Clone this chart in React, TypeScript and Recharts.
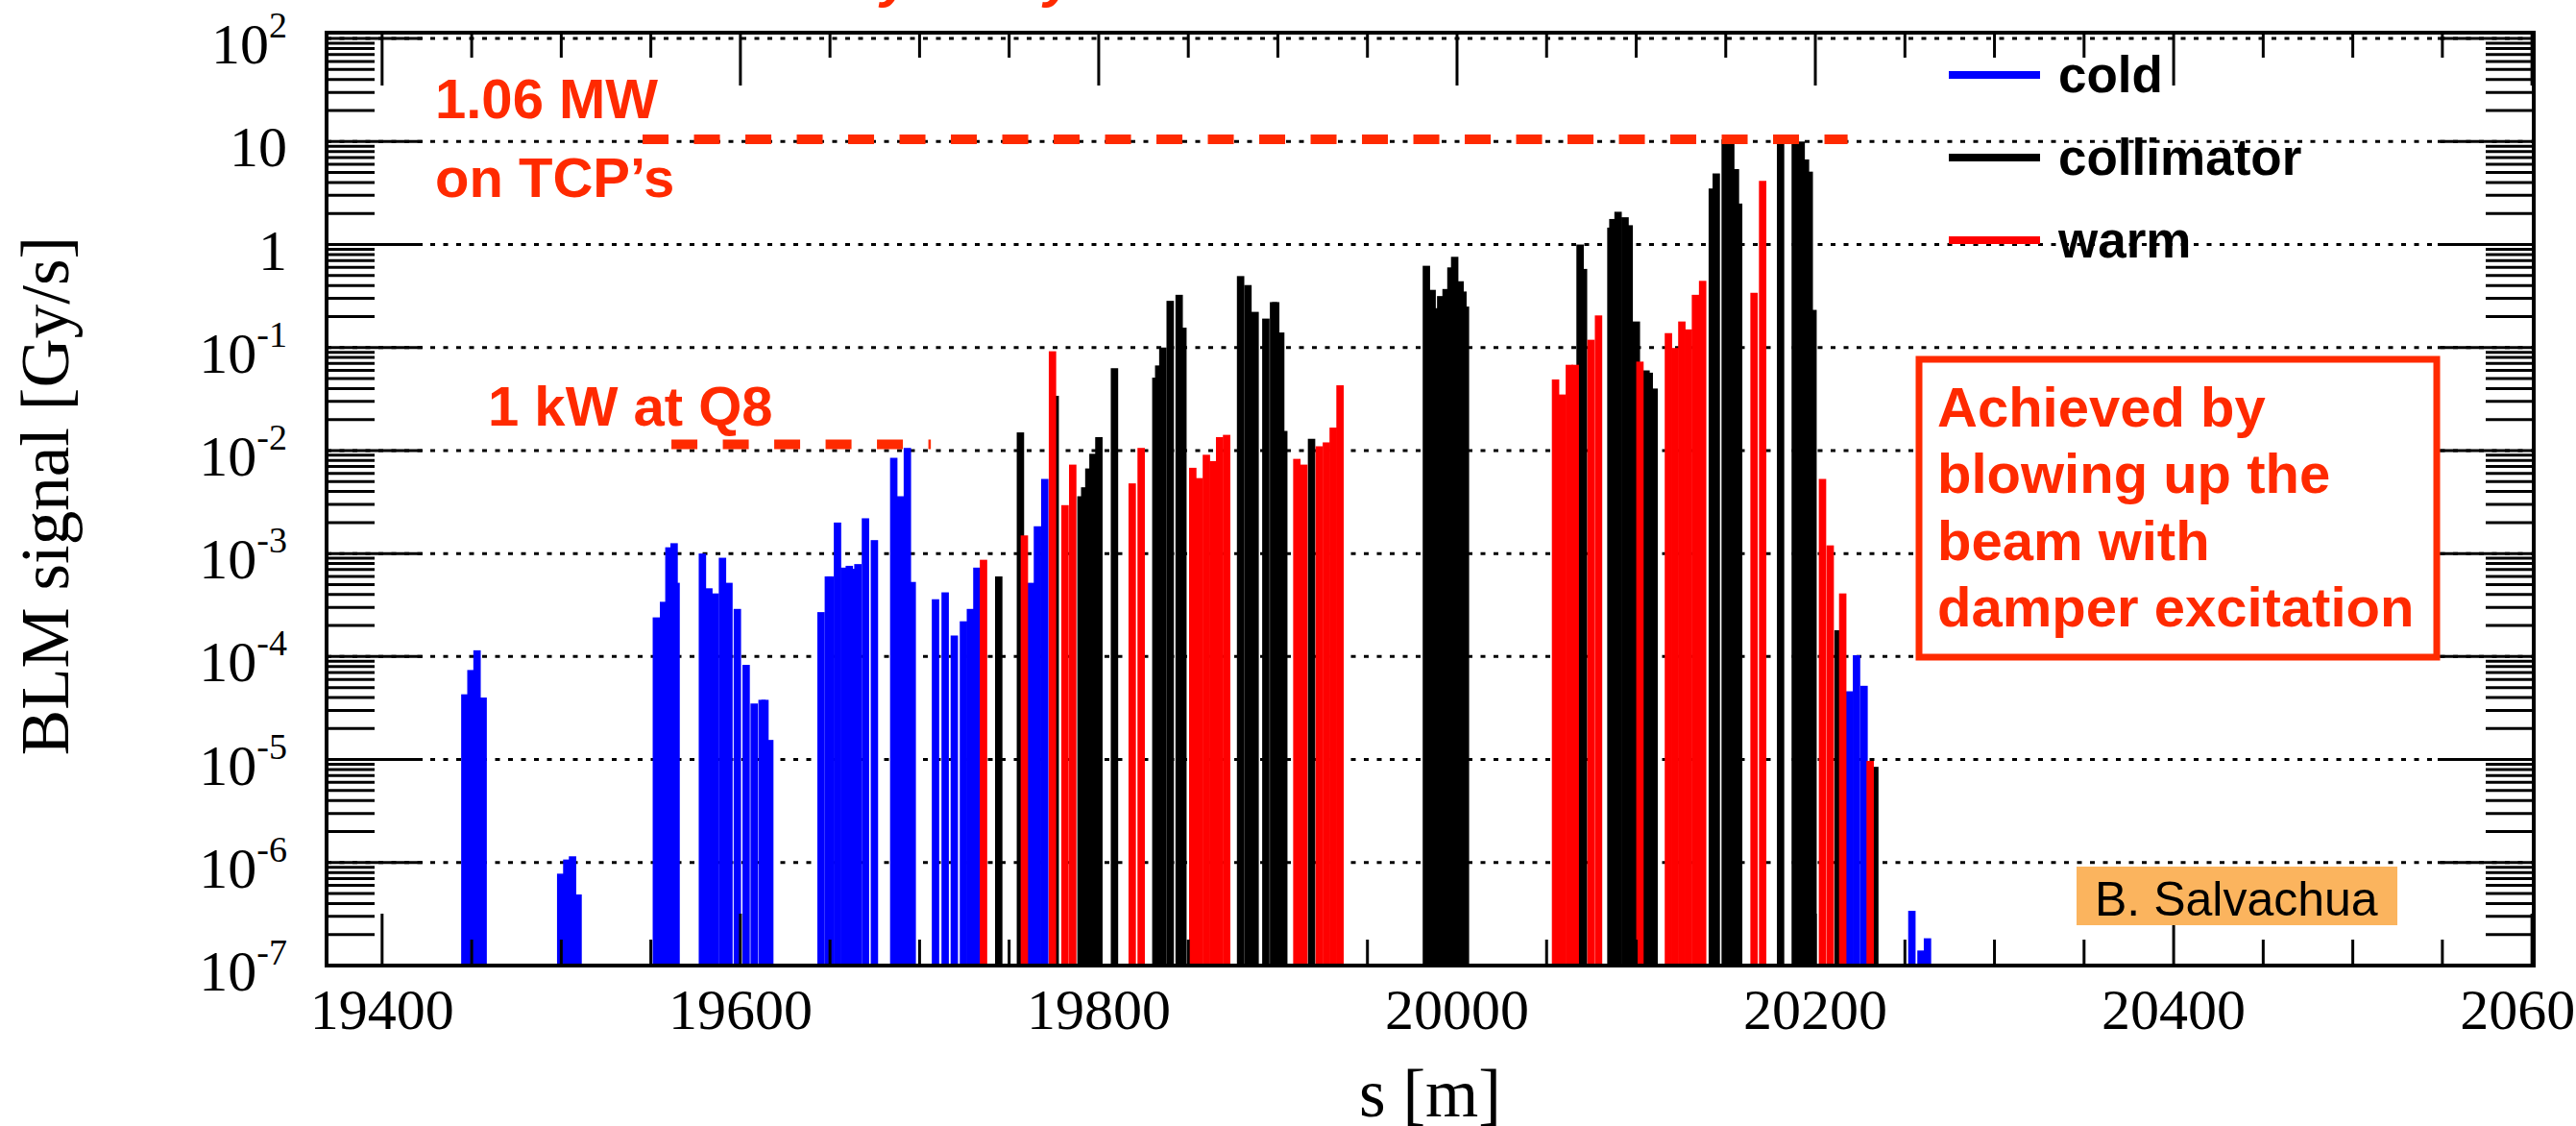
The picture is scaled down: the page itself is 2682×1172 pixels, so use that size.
import React from 'react';
import { ComposedChart, Bar, XAxis, YAxis, ReferenceLine, CartesianGrid } from 'recharts';

// ---------------- data (s [m] and BLM signal [Gy/s]) ----------------
const COLD_S = [
  19446.1, 19449.5, 19452.9, 19456.3,
  19499.6, 19503.0, 19506.2, 19509.3,
  19553.0, 19557.0, 19560.0, 19562.9, 19564.0,
  19578.7, 19582.3, 19585.9, 19589.9, 19593.5, 19598.2, 19603.1, 19607.6, 19612.0, 19613.6, 19616.3,
  19644.9, 19649.0, 19650.2, 19654.1, 19657.9, 19660.7, 19663.5, 19665.5, 19669.7, 19674.7,
  19685.5, 19689.3, 19693.1, 19695.8,
  19708.8, 19714.2, 19719.3, 19724.4, 19728.3, 19731.9,
  19762.1, 19765.7, 19769.8,
  20219.1, 20222.9, 20227.1,
  20253.8, 20258.9, 20262.5,
];
const COLD_V = [
  4.3e-5, 7.4e-5, 1.15e-4, 4.0e-5,
  7.8e-7, 1.07e-6, 1.15e-6, 4.9e-7,
  2.4e-4, 3.4e-4, 1.15e-3, 1.26e-3, 5.2e-4,
  1.0e-3, 4.6e-4, 4.1e-4, 9.1e-4, 5.2e-4, 2.9e-4, 8.3e-5, 3.5e-5, 3.8e-5, 3.8e-5, 1.55e-5,
  2.7e-4, 6.0e-4, 6.0e-4, 2.0e-3, 7.3e-4, 7.6e-4, 7.1e-4, 7.9e-4, 2.2e-3, 1.35e-3,
  8.5e-3, 3.6e-3, 1.06e-2, 5.3e-4,
  3.6e-4, 4.2e-4, 1.6e-4, 2.2e-4, 2.9e-4, 7.3e-4,
  5.2e-4, 1.84e-3, 5.3e-3,
  4.6e-5, 1.03e-4, 5.2e-5,
  3.4e-7, 1.4e-7, 1.84e-7,
];

const COLL_S = [
  19744.1, 19756.2, 19775.6,
  19790.0, 19792.1, 19794.4, 19796.7, 19800.0, 19808.7,
  19831.8, 19833.4, 19835.7, 19839.8, 19844.8, 19846.9,
  19879.1, 19883.2, 19887.2, 19893.2, 19897.5, 19898.7, 19901.5, 19903.2, 19918.7,
  19982.8, 19986.0, 19987.9, 19990.8, 19993.8, 19996.5, 19998.6, 20001.6, 20003.2, 20004.6,
  20068.6, 20070.5, 20085.8, 20086.9, 20089.8, 20093.7, 20096.0, 20100.0, 20105.4, 20107.2, 20109.9,
  20142.4, 20144.6, 20149.6, 20152.7, 20155.3, 20157.1,
  20180.5, 20188.7, 20192.0, 20194.4, 20196.5, 20198.6,
  20212.6, 20233.1,
];
const COLL_V = [
  6.0e-4, 1.5e-2, 3.4e-2,
  3.6e-3, 4.4e-3, 6.7e-3, 9.3e-3, 1.35e-2, 6.3e-2,
  5.1e-2, 6.7e-2, 0.1, 0.284, 0.325, 0.156,
  0.494, 0.404, 0.222, 0.191, 0.276, 0.276, 0.14, 1.55e-2, 1.3e-2,
  0.622, 0.363, 0.241, 0.316, 0.37, 0.6, 0.76, 0.44, 0.35, 0.25,
  1.0, 0.58, 1.46, 1.77, 2.08, 1.84, 1.54, 0.179, 6.0e-2, 5.7e-2, 4.0e-2,
  3.5, 4.9, 10.5, 9.5, 5.4, 2.5,
  10, 11, 10, 6.7, 5.1, 0.232,
  1.8e-4, 8.5e-6,
];

const WARM_S = [
  19735.6, 19758.4, 19774.1, 19781.1, 19785.4,
  19818.6, 19823.6,
  19852.4, 19856.1, 19860.0, 19863.8, 19867.4, 19871.3,
  19910.5, 19914.4, 19923.0, 19927.0, 19930.8, 19934.6,
  20054.9, 20058.7, 20062.6, 20065.9, 20074.7, 20078.9,
  20102.0,
  20117.9, 20121.6, 20125.4, 20129.1, 20133.0, 20137.0,
  20165.7, 20170.5,
  20203.9, 20208.2, 20215.2, 20230.5,
];
const WARM_V = [
  8.7e-4, 1.5e-3, 9.2e-2, 2.95e-3, 7.3e-3,
  4.8e-3, 1.06e-2,
  6.8e-3, 5.4e-3, 9.1e-3, 7.9e-3, 1.35e-2, 1.42e-2,
  8.3e-3, 7.3e-3, 1.1e-2, 1.2e-2, 1.67e-2, 4.3e-2,
  4.9e-2, 3.5e-2, 6.8e-2, 6.8e-2, 0.119, 0.205,
  7.3e-2,
  0.138, 0.099, 0.179, 0.15, 0.325, 0.444,
  0.34, 4.15,
  5.3e-3, 1.2e-3, 4.1e-4, 9.7e-6,
];

const SERIES_NAMES = ['cold', 'collimator', 'warm'];

// ---------------- axes ----------------
const X_TICKS = [
  19400, 19450, 19500, 19550, 19600, 19650, 19700, 19750, 19800, 19850, 19900, 19950,
  20000, 20050, 20100, 20150, 20200, 20250, 20300, 20350, 20400, 20450, 20500, 20550, 20600,
];
const X_LABELS = [19400, 19600, 19800, 20000, 20200, 20400, 20600];
const Y_DECADES = [1e-7, 1e-6, 1e-5, 1e-4, 1e-3, 1e-2, 1e-1, 1, 10, 100];
const Y_LABEL_BASE = ['10', '10', '10', '10', '10', '10', '10', '1', '10', '10'];
const Y_LABEL_EXP = ['-7', '-6', '-5', '-4', '-3', '-2', '-1', '', '', '2'];
const Y_MINOR_MULT = [2, 3, 4, 5, 6, 7, 8, 9];

// dashed reference levels
const LINE_MW = { s0: 19545.4, s1: 20218, v: 10.5, label1: '1.06 MW', label2: 'on TCP\u2019s' };
const LINE_KW = { s0: 19561.5, s1: 19706.3, v: 0.0115, label: '1 kW at Q8' };

// ---------------- styles ----------------
const W = 2682;
const H = 1172;
const SERIF = '"Liberation Serif", "Times New Roman", Times, serif';
const SANS = '"Liberation Sans", Arial, Helvetica, sans-serif';
const COLORS: Record<string, string> = { cold: '#0000ff', collimator: '#000000', warm: '#ff0000' };
const ANNOT = '#ff2a00';
const BAR_PX = 7.7;

const Y_TICKS: number[] = [];
Y_DECADES.forEach((d, i) => {
  Y_TICKS.push(d);
  if (i < Y_DECADES.length - 1) {
    Y_MINOR_MULT.forEach((m) => Y_TICKS.push(parseFloat((m * d).toPrecision(3))));
  }
});
const isMajorY = (v: number) => Y_DECADES.some((d) => Math.abs(d - v) / d < 1e-6);

// combined table in drawing order: collimator, cold, warm (warm on top)
const TABLE = [
  ...COLL_S.map((s, i) => ({ s, v: COLL_V[i], kind: 'collimator' })),
  ...COLD_S.map((s, i) => ({ s, v: COLD_V[i], kind: 'cold' })),
  ...WARM_S.map((s, i) => ({ s, v: WARM_V[i], kind: 'warm' })),
];

const BarShape = (props: any) => {
  const { x, y, width, height, payload } = props;
  if (x == null || y == null || height == null || !(height > 0)) return null;
  const cx = x + (width || 0) / 2;
  return (
    <rect
      x={cx - BAR_PX / 2}
      y={y}
      width={BAR_PX}
      height={height}
      fill={COLORS[payload.kind]}
    />
  );
};

const BottomTick = (props: any) => {
  const { x, y, payload } = props;
  const v = payload.value;
  const major = X_LABELS.includes(v);
  return (
    <g>
      <line x1={x} x2={x} y1={y} y2={y - (major ? 54 : 27)} stroke="#000" strokeWidth={3} />
      {major && (
        <text x={x} y={y + 66} textAnchor="middle" fontFamily={SERIF} fontSize={60} fill="#000">
          {v}
        </text>
      )}
    </g>
  );
};

const TopTick = (props: any) => {
  const { x, y, payload } = props;
  const major = X_LABELS.includes(payload.value);
  return <line x1={x} x2={x} y1={y} y2={y + (major ? 55 : 26)} stroke="#000" strokeWidth={3} />;
};

const LeftTick = (props: any) => {
  const { x, y, payload } = props;
  const v = payload.value;
  const major = isMajorY(v);
  let label = null;
  if (major) {
    const idx = Y_DECADES.findIndex((d) => Math.abs(d - v) / d < 1e-6);
    const base = Y_LABEL_BASE[idx];
    const exp = Y_LABEL_EXP[idx];
    label = (
      <text x={x - 41} y={y + 26} textAnchor="end" fontFamily={SERIF} fontSize={60} fill="#000">
        <tspan>{base}</tspan>
        {exp !== '' && (
          <tspan dy={-27} fontSize={38}>
            {exp}
          </tspan>
        )}
      </text>
    );
  }
  return (
    <g>
      <line x1={x} x2={x + (major ? 100 : 50)} y1={y} y2={y} stroke="#000" strokeWidth={3} />
      {label}
    </g>
  );
};

const RightTick = (props: any) => {
  const { x, y, payload } = props;
  const major = isMajorY(payload.value);
  return <line x1={x} x2={x - (major ? 100 : 50)} y1={y} y2={y} stroke="#000" strokeWidth={3} />;
};

const AXIS_LINE = { stroke: '#000', strokeWidth: 4, strokeLinecap: 'square' as const };
const X_DOMAIN: [number, number] = [19369, 20601];
const Y_DOMAIN: [number, number] = [1e-7, 114];

const LEGEND_Y = [78, 164, 250];

export default function App() {
  return (
    <div style={{ position: 'absolute', left: 0, top: 0, width: W, height: H, background: '#fff' }}>
      <ComposedChart
        width={W}
        height={H}
        data={TABLE}
        margin={{ top: 24, right: 34, bottom: 67, left: 240 }}
      >
        <CartesianGrid
          vertical={false}
          horizontalValues={Y_DECADES.slice(1)}
          stroke="#000"
          strokeWidth={3}
          strokeDasharray="5 8.5"
        />
        <XAxis
          dataKey="s"
          type="number"
          domain={X_DOMAIN}
          allowDataOverflow
          ticks={X_TICKS}
          interval={0}
          height={100}
          tickSize={0}
          tickMargin={0}
          tickLine={false}
          axisLine={AXIS_LINE}
          tick={<BottomTick />}
        />
        <XAxis
          xAxisId="top"
          orientation="top"
          dataKey="s"
          type="number"
          domain={X_DOMAIN}
          allowDataOverflow
          ticks={X_TICKS}
          interval={0}
          height={10}
          tickSize={0}
          tickMargin={0}
          tickLine={false}
          axisLine={AXIS_LINE}
          tick={<TopTick />}
        />
        <YAxis
          type="number"
          scale="log"
          domain={Y_DOMAIN}
          allowDataOverflow
          ticks={Y_TICKS}
          interval={0}
          width={100}
          tickSize={0}
          tickMargin={0}
          tickLine={false}
          axisLine={AXIS_LINE}
          tick={<LeftTick />}
        />
        <YAxis
          yAxisId="right"
          orientation="right"
          type="number"
          scale="log"
          domain={Y_DOMAIN}
          allowDataOverflow
          ticks={Y_TICKS}
          interval={0}
          width={10}
          tickSize={0}
          tickMargin={0}
          tickLine={false}
          axisLine={AXIS_LINE}
          tick={<RightTick />}
        />
        <Bar dataKey="v" isAnimationActive={false} shape={BarShape} />
        <ReferenceLine
          segment={[
            { x: LINE_MW.s0, y: LINE_MW.v },
            { x: LINE_MW.s1, y: LINE_MW.v },
          ]}
          stroke={ANNOT}
          strokeWidth={10}
          strokeDasharray="27 26.5"
          ifOverflow="visible"
        />
        <ReferenceLine
          segment={[
            { x: LINE_KW.s0, y: LINE_KW.v },
            { x: LINE_KW.s1, y: LINE_KW.v },
          ]}
          stroke={ANNOT}
          strokeWidth={10}
          strokeDasharray="27 26.5"
          ifOverflow="visible"
        />
      </ComposedChart>

      <svg
        width={W}
        height={H}
        style={{ position: 'absolute', left: 0, top: 0, pointerEvents: 'none' }}
      >
        {/* cut-off title fragments at the very top */}
        <text x={917} y={-4} fontFamily={SANS} fontWeight="bold" fontStyle="italic" fontSize={58} fill={ANNOT}>y</text>
        <text x={1087} y={-4} fontFamily={SANS} fontWeight="bold" fontStyle="italic" fontSize={58} fill={ANNOT}>y</text>

        {/* axis titles */}
        <text
          transform="translate(71,516) rotate(-90)"
          textAnchor="middle"
          fontFamily={SERIF}
          fontSize={71}
          fill="#000"
        >
          BLM signal [Gy/s]
        </text>
        <text x={1489} y={1162} textAnchor="middle" fontFamily={SERIF} fontSize={71} fill="#000">
          s [m]
        </text>

        {/* legend */}
        {SERIES_NAMES.map((name, i) => (
          <g key={name}>
            <line x1={2029} x2={2124} y1={LEGEND_Y[i]} y2={LEGEND_Y[i]} stroke={COLORS[name]} strokeWidth={8} />
            <text x={2143} y={LEGEND_Y[i] + 18} fontFamily={SANS} fontWeight="bold" fontSize={53} fill="#000">
              {name}
            </text>
          </g>
        ))}

        {/* annotations */}
        <text x={453} y={123} fontFamily={SANS} fontWeight="bold" fontSize={58} fill={ANNOT}>
          {LINE_MW.label1}
        </text>
        <text x={453} y={205} fontFamily={SANS} fontWeight="bold" fontSize={58} fill={ANNOT}>
          {LINE_MW.label2}
        </text>
        <text x={508} y={443} fontFamily={SANS} fontWeight="bold" fontSize={58} fill={ANNOT}>
          {LINE_KW.label}
        </text>

        <rect x={1998} y={374} width={539} height={310} fill="#fff" stroke={ANNOT} strokeWidth={7} />
        {['Achieved by', 'blowing up the', 'beam with', 'damper excitation'].map((t, i) => (
          <text key={t} x={2017} y={444 + i * 69.3} fontFamily={SANS} fontWeight="bold" fontSize={58} fill={ANNOT}>
            {t}
          </text>
        ))}

        <rect x={2162} y={902} width={334} height={61} fill="#fbb45e" />
        <text x={2181} y={953} fontFamily={SANS} fontSize={50} fill="#000">
          B. Salvachua
        </text>
      </svg>
    </div>
  );
}
